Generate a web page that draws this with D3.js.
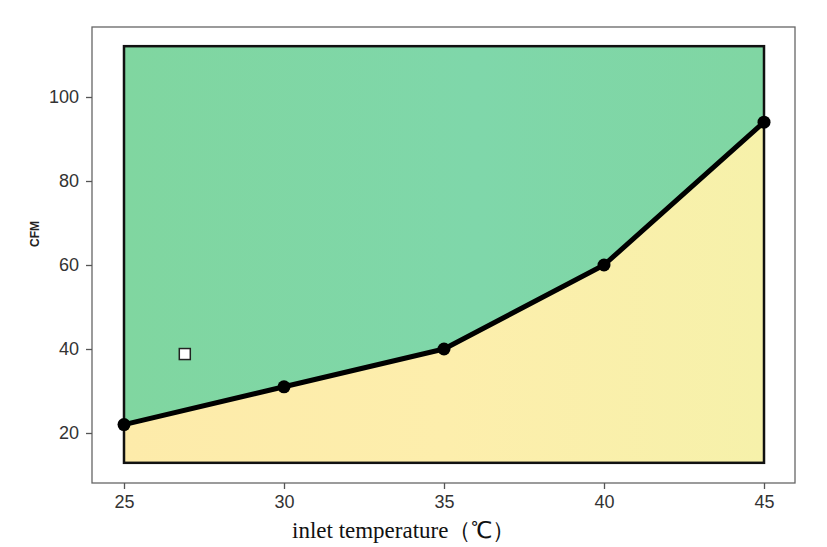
<!DOCTYPE html>
<html>
<head>
<meta charset="utf-8">
<script src="https://cdn.jsdelivr.net/npm/d3@7"></script>
<style>
  body { margin: 0; background: #fff; }
  svg { display: block; }
</style>
</head>
<body>
<div id="chart"></div>
<script>
const temps   = [25, 30, 35, 40, 45];
const cfm     = [22, 31, 40, 60, 94];
const xTicks  = [25, 30, 35, 40, 45];
const yTicks  = [20, 40, 60, 80, 100];
const marker  = [26.9, 38.8];
const region  = { xMin : 25, xMax : 45, yMin : 12.9, yMax : 112.1 };

const width  = 827;
const height = 547;

// frame edges in pixels
const frame = { left : 92, right : 795, top : 27, bottom : 483 };

const x = d3.scaleLinear()
            .domain( [25, 45] )
            .range( [124, 764] );

const y = d3.scaleLinear()
            .domain( [20, 100] )
            .range( [433, 97] );

const svg = d3.select( '#chart' )
              .append( 'svg' )
              .attr( 'width', width )
              .attr( 'height', height );

const defs = svg.append( 'defs' );

const gGreen = defs.append( 'linearGradient' ).attr( 'id', 'green' );
gGreen.append( 'stop' ).attr( 'offset', '0%' ).attr( 'stop-color', '#80d6a0' );
gGreen.append( 'stop' ).attr( 'offset', '55%' ).attr( 'stop-color', '#7fd7aa' );
gGreen.append( 'stop' ).attr( 'offset', '100%' ).attr( 'stop-color', '#80d6a3' );

const gYellow = defs.append( 'linearGradient' ).attr( 'id', 'yellow' );
gYellow.append( 'stop' ).attr( 'offset', '0%' ).attr( 'stop-color', '#fdebaa' );
gYellow.append( 'stop' ).attr( 'offset', '50%' ).attr( 'stop-color', '#fdeeac' );
gYellow.append( 'stop' ).attr( 'offset', '100%' ).attr( 'stop-color', '#f6f1aa' );

// outer frame
svg.append( 'rect' )
   .attr( 'x', frame.left )
   .attr( 'y', frame.top )
   .attr( 'width', frame.right - frame.left )
   .attr( 'height', frame.bottom - frame.top )
   .attr( 'fill', 'none' )
   .attr( 'stroke', '#666' )
   .attr( 'stroke-width', 1.3 );

const pts = temps.map( ( t, i ) => [t, cfm[i]] );

// green area above the curve
const upper = [[region.xMin, region.yMax]].concat( pts, [[region.xMax, region.yMax]] );
svg.append( 'path' )
   .attr( 'd', d3.line().x( d => x( d[0] ) ).y( d => y( d[1] ) )( upper ) + 'Z' )
   .attr( 'fill', 'url(#green)' );

// yellow area below the curve
svg.append( 'path' )
   .datum( pts )
   .attr( 'd', d3.area()
                 .x( d => x( d[0] ) )
                 .y0( y( region.yMin ) )
                 .y1( d => y( d[1] ) ) )
   .attr( 'fill', 'url(#yellow)' );

// border of the region
svg.append( 'rect' )
   .attr( 'x', x( region.xMin ) )
   .attr( 'y', y( region.yMax ) )
   .attr( 'width', x( region.xMax ) - x( region.xMin ) )
   .attr( 'height', y( region.yMin ) - y( region.yMax ) )
   .attr( 'fill', 'none' )
   .attr( 'stroke', '#111' )
   .attr( 'stroke-width', 2.5 );

// curve
svg.append( 'path' )
   .datum( pts )
   .attr( 'd', d3.line().x( d => x( d[0] ) ).y( d => y( d[1] ) ) )
   .attr( 'fill', 'none' )
   .attr( 'stroke', '#000' )
   .attr( 'stroke-width', 5 )
   .attr( 'stroke-linejoin', 'round' );

svg.selectAll( 'circle.pt' )
   .data( pts )
   .enter()
   .append( 'circle' )
   .attr( 'class', 'pt' )
   .attr( 'cx', d => x( d[0] ) )
   .attr( 'cy', d => y( d[1] ) )
   .attr( 'r', 6.5 )
   .attr( 'fill', '#000' );

// square marker
svg.append( 'rect' )
   .attr( 'x', x( marker[0] ) - 5.5 )
   .attr( 'y', y( marker[1] ) - 5.5 )
   .attr( 'width', 11 )
   .attr( 'height', 11 )
   .attr( 'fill', '#fff' )
   .attr( 'stroke', '#222' )
   .attr( 'stroke-width', 1.5 );

// axes
const xAxis = svg.append( 'g' )
                 .attr( 'transform', `translate(0,${frame.bottom})` )
                 .call( d3.axisBottom( x ).tickValues( xTicks ).tickSize( 6 ).tickSizeOuter( 0 ) );

const yAxis = svg.append( 'g' )
                 .attr( 'transform', `translate(${frame.left},0)` )
                 .call( d3.axisLeft( y ).tickValues( yTicks ).tickSize( 6 ).tickSizeOuter( 0 ) );

[xAxis, yAxis].forEach( a => {
  a.select( '.domain' ).remove();
  a.selectAll( '.tick line' ).attr( 'stroke', '#555' ).attr( 'stroke-width', 1.3 );
  a.selectAll( '.tick text' )
   .attr( 'fill', '#333' )
   .style( 'font-family', '"Liberation Sans", Arial, sans-serif' )
   .style( 'font-size', '18px' );
} );

xAxis.selectAll( '.tick text' ).attr( 'y', 9 ).attr( 'dy', '0.9em' );
yAxis.selectAll( '.tick text' ).attr( 'x', -13 );

// axis titles
svg.append( 'text' )
   .text( 'inlet temperature（℃）' )
   .attr( 'x', 292 )
   .attr( 'y', 538 )
   .attr( 'fill', '#111' )
   .style( 'font-family', '"Liberation Serif", "Times New Roman", serif' )
   .style( 'font-size', '23px' );

svg.append( 'text' )
   .text( 'CFM' )
   .attr( 'transform', 'translate(39,234) rotate(-90)' )
   .attr( 'text-anchor', 'middle' )
   .attr( 'fill', '#222' )
   .style( 'font-family', '"Liberation Sans", Arial, sans-serif' )
   .style( 'font-size', '12px' )
   .style( 'font-weight', 'bold' );
</script>
</body>
</html>
